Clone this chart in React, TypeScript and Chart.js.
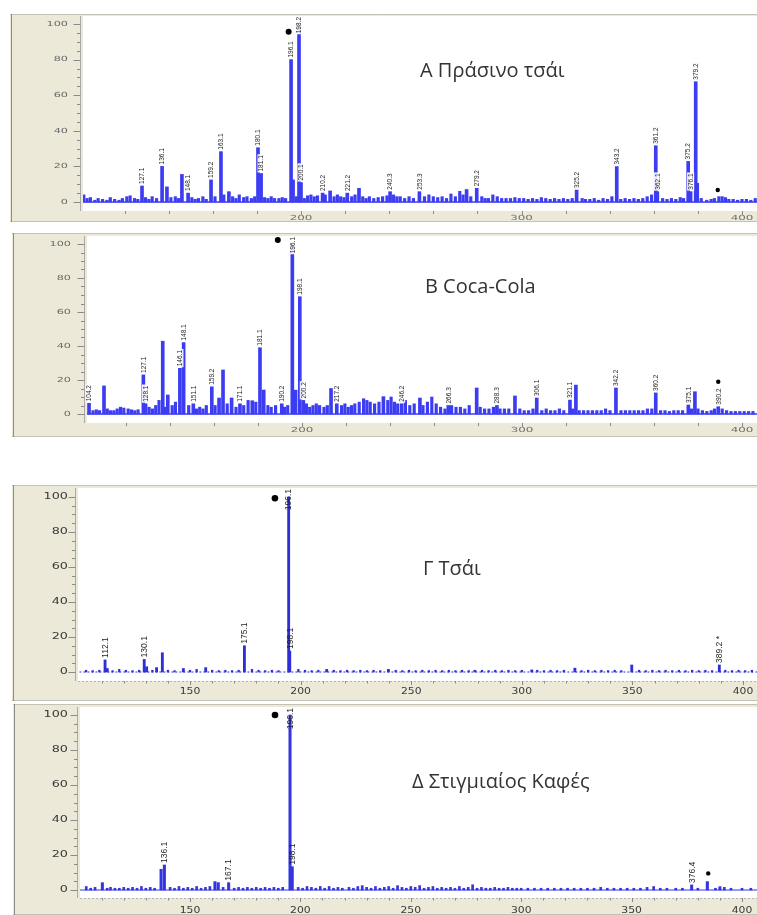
import React, { useEffect, useRef } from "react";
import { Chart, registerables } from "chart.js";

Chart.register(...registerables);

// ================= DATA =================
// baseline (intensity 0) drawn across the m/z range
const BASELINE_MZ = [100, 410];

// axis tick values
const Y_TICK_LABELS = [0, 20, 40, 60, 80, 100];
const Y_MINOR_TICKS = [5, 10, 15, 25, 30, 35, 45, 50, 55, 65, 70, 75, 85, 90, 95];
const X_TICK_LABELS_AB = [200, 300, 400];
const X_MINOR_TICKS_AB = [120, 140, 160, 180, 220, 240, 260, 280, 320, 340, 360, 380];
const X_TICK_LABELS_CD = [150, 200, 250, 300, 350, 400];
const X_MINOR_TICKS_CD = [
  110, 120, 130, 140, 160, 170, 180, 190, 210, 220, 230, 240, 260, 270, 280, 290,
  310, 320, 330, 340, 360, 370, 380, 390,
];

// titles
const TITLE_A = "Α Πράσινο τσάι";
const TITLE_B = "Β Coca-Cola";
const TITLE_C = "Γ Τσάι";
const TITLE_D = "Δ Στιγμιαίος Καφές";

// ---- Panel A: green tea  [m/z, relative intensity, label]
const A_PEAKS: [number, number, string][] = [
  [127.9, 9, "127.1"], [137.0, 20, "136.1"], [139.2, 8.5, ""], [146.0, 15.5, ""],
  [148.8, 5, "148.1"], [159.2, 12.4, "159.2"], [163.7, 28.3, "163.1"], [167.3, 5.8, ""],
  [180.5, 30.5, "180.1"], [181.9, 16, "181.1"], [195.5, 80, "196.1"], [196.4, 12.4, ""],
  [199.1, 100, "198.2"], [200.0, 10.9, "200.1"], [209.8, 5, "210.2"], [213.2, 6.2, ""],
  [221.0, 5, "221.2"], [226.3, 7.7, ""], [240.4, 5.8, "240.3"], [253.7, 5.8, "253.3"],
  [275.1, 7, ""], [279.7, 7.7, "279.2"], [325.0, 6.7, "325.2"], [343.2, 19.9, "343.2"],
  [360.9, 31.6, "361.2"], [361.6, 5.8, "362.1"], [375.6, 22.8, "375.2"], [376.7, 5.8, "376.1"],
  [379.0, 67.6, "379.2"], [379.7, 10.5, ""],
];
const A_NOISE: [number, number][] = [
  [101.5, 4], [103, 2], [104.5, 2.5], [106.5, 1], [108, 2], [110, 1.5], [112, 1], [113.5, 2.5],
  [115.5, 1.5], [117.5, 1], [119, 2], [121, 3], [122.5, 3.5], [124.5, 2], [126, 1.5], [129.5, 2.5],
  [131, 1.5], [132.5, 3], [134.5, 2], [141, 2.5], [143, 3], [144.5, 2], [150.5, 2.5], [152, 1.5],
  [153.5, 2], [155.5, 3], [157, 1.5], [161, 3], [165, 4], [169, 3], [170.5, 2], [172, 4],
  [174, 2.5], [175.5, 3], [177.5, 2], [179, 3], [183.5, 2.5], [185, 2], [186.5, 3], [188, 2],
  [190, 2], [191.5, 2.5], [193, 2], [198, 3], [201.5, 2], [203, 3.5], [204.5, 4], [206, 3],
  [207.5, 3.5], [211, 4], [215, 3], [216.5, 4], [218, 3], [219.5, 2.5], [223, 3], [224.5, 4],
  [228, 3], [229.5, 2], [231, 3], [233, 2], [235, 2.5], [237, 3], [239, 3.5], [242, 4],
  [243.5, 3], [245, 3], [247, 2], [249, 3], [251, 2], [256, 3], [258, 4], [260, 3],
  [262, 2.5], [264, 3], [266, 2], [268, 4.5], [270, 3], [272, 6], [273.5, 4], [277, 3],
  [282, 3], [283.5, 2], [285, 2], [287, 4], [289, 3], [291, 2], [293, 2], [295, 2],
  [297, 2.5], [299, 2], [301, 2], [303, 1.5], [305, 2], [307, 1.5], [309, 2.5], [311, 2],
  [313, 1.5], [315, 2], [317, 1.5], [319, 2], [321, 1.5], [323, 2], [327.5, 2], [329, 1.5],
  [331, 1.5], [333, 2], [335, 1], [337, 2], [339, 1.5], [341, 3], [345, 1.5], [347, 2],
  [349, 1.5], [351, 2], [353, 1.5], [355, 2], [357, 3], [359, 4], [364, 2], [366, 1.5],
  [368, 2], [370, 1.5], [372, 2.5], [373.5, 2], [381.5, 2], [384, 1], [386, 1.5], [387.5, 2],
  [389.5, 3], [391, 3], [392.5, 2.5], [394, 1.5], [396, 1.5], [398, 1], [400, 1.5], [402, 1.5],
  [404, 1], [406, 2],
];

// ---- Panel B: Coca-Cola
const B_PEAKS: [number, number, string][] = [
  [103.2, 6.3, "104.2"], [110.0, 16.5, ""], [127.9, 23, "127.1"], [128.9, 6, "128.1"],
  [136.7, 42.8, ""], [139.0, 11.2, ""], [144.5, 26.9, "146.1"], [146.2, 42, "148.1"],
  [150.6, 6, "151.1"], [159.0, 16, "159.2"], [162.3, 9.4, ""], [164.1, 25.9, ""],
  [168.0, 9.4, ""], [171.8, 6, "171.1"], [177.4, 7.8, ""], [180.9, 39, "181.1"],
  [182.6, 14.1, ""], [190.8, 6, "190.2"], [195.6, 100, "196.1"], [197.1, 14, ""],
  [199.0, 69, "198.1"], [200.6, 8, "200.2"], [213.2, 15, ""], [215.8, 6, "217.2"],
  [237.0, 10.2, ""], [245.3, 6, "246.2"], [253.6, 9.4, ""], [266.5, 5, "266.3"],
  [279.4, 15.3, ""], [288.6, 5, "288.3"], [296.8, 10.6, ""], [306.7, 9.4, "306.1"],
  [321.8, 8.2, "321.1"], [324.5, 17, ""], [342.7, 15.3, "342.2"], [360.8, 12.4, "360.2"],
  [375.6, 5.3, "375.1"], [378.6, 13.1, ""], [389.2, 4.3, "390.2"],
];
const B_NOISE: [number, number][] = [
  [101, 4], [105, 2], [106.5, 2.5], [108, 2], [111.5, 3], [113, 2], [114.5, 2], [116, 3],
  [117.5, 4], [119, 3.5], [121, 3], [122.5, 2.5], [124, 2], [125.5, 2.5], [130.5, 4], [132, 3],
  [133.5, 5], [135, 8], [138, 4], [141, 5], [142.5, 7], [148.5, 5], [152, 3], [153.5, 4],
  [155, 3], [156.5, 5], [160.5, 5], [166, 6], [170, 4], [173.5, 5], [175.5, 8], [179, 7],
  [184.5, 5], [186, 4], [188, 5], [192, 4], [193.5, 5], [202, 6], [203.5, 4], [205, 5],
  [206.5, 6], [208, 5], [210, 4], [211.5, 5], [218, 5], [219.5, 6], [221, 4], [222.5, 5],
  [224, 6], [226, 7], [228, 9], [229.5, 8], [231, 7], [233, 6], [235, 7], [239, 8],
  [240.5, 10], [242, 7], [243.5, 6], [247, 8], [249, 5], [251, 6], [255, 5], [257, 7],
  [259, 10], [261, 6], [263, 4], [265, 3], [268, 5], [270, 4], [272, 4], [274, 3],
  [276, 5], [281, 4], [283, 3], [285, 3], [287, 4], [290, 3], [292, 3], [294, 3],
  [299, 3], [301, 2], [303, 2], [305, 3], [309, 2], [311, 3], [313, 2], [315, 2],
  [317, 3], [319, 2], [323, 3], [326, 2], [328, 2], [330, 2], [332, 2], [334, 2],
  [336, 2], [338, 3], [340, 2], [345, 2], [347, 2], [349, 2], [351, 2], [353, 2],
  [355, 2], [357, 3], [359, 3], [363, 2], [365, 2], [367, 1.5], [369, 2], [371, 2],
  [373, 2], [377, 3], [380, 3], [382, 2], [384, 1.5], [386, 2], [387.5, 3], [391, 3],
  [393, 2], [395, 1.5], [397, 1.5], [399, 1.5], [401, 1.5], [403, 1.5], [405, 1.5],
];

// ---- Panel Γ: tea
const C_PEAKS: [number, number, string][] = [
  [111.6, 6.9, "112.1"], [112.6, 2, ""], [129.3, 7.2, "130.1"], [130.4, 3, ""],
  [134.9, 2.5, ""], [137.5, 11, ""], [147.0, 2, ""], [157.1, 2.5, ""],
  [174.6, 15, "175.1"], [194.6, 100, "196.1"], [195.1, 12, "198.1"], [211.8, 1.5, ""],
  [239.7, 1.5, ""], [278.8, 1, ""], [304.5, 1.2, ""], [324.0, 2.2, ""],
  [349.7, 4, ""], [389.3, 4, "389.2 *"],
];
const C_NOISE: [number, number][] = [
  [103, 1], [106, 0.8], [109, 1], [115, 0.8], [118, 1.5], [121, 1], [124, 0.8], [127, 1],
  [133, 1], [140, 1], [143, 0.8], [150, 1], [153, 1.5], [160, 1], [163, 0.8], [166, 1],
  [169, 0.8], [172, 1], [178, 1.5], [181, 1], [184, 0.8], [187, 1], [190, 0.8], [199, 1.5],
  [202, 1], [205, 0.8], [208, 1], [215, 1], [218, 0.8], [221, 1], [224, 0.8], [227, 1],
  [230, 0.8], [233, 1], [236, 0.8], [243, 1], [246, 0.8], [249, 1], [252, 0.8], [255, 1],
  [258, 0.8], [261, 1], [264, 0.8], [267, 1], [270, 0.8], [273, 1], [276, 0.8], [282, 1],
  [285, 0.8], [288, 1], [291, 0.8], [294, 1], [297, 0.8], [300, 1], [307, 1], [310, 0.8],
  [313, 1], [316, 0.8], [319, 1], [327, 0.8], [330, 1], [333, 0.8], [336, 1], [339, 0.8],
  [342, 1], [345, 0.8], [353, 1], [356, 0.8], [359, 1], [362, 0.8], [365, 1], [368, 0.8],
  [371, 1], [374, 0.8], [377, 1], [380, 0.8], [383, 1], [386, 0.8], [392, 1], [395, 0.8],
  [398, 1], [401, 0.8], [404, 1],
];

// ---- Panel Δ: instant coffee
const D_PEAKS: [number, number, string][] = [
  [110.3, 4.2, ""], [136.9, 11.8, ""], [138.4, 14.3, "136.1"], [161.3, 4.8, ""],
  [162.8, 4.2, ""], [167.5, 4.2, "167.1"], [195.3, 100, "196.1"], [196.3, 13.3, "198.1"],
  [377.2, 2.9, "376.4"], [384.3, 4.8, ""], [390.0, 1.9, ""],
];
const D_NOISE: [number, number][] = [
  [103, 2], [105, 1], [107, 1.5], [112.5, 1], [114, 1.5], [116, 1], [118, 1], [120, 1.5],
  [122, 1], [124, 1.5], [126, 1], [128, 2], [130, 1], [132, 1.5], [134, 1], [141, 1.5],
  [143, 1], [145, 2], [147, 1], [149, 1.5], [151, 1], [153, 2], [155, 1], [157, 1.5],
  [159, 2], [165, 1.5], [170, 1], [172, 1.5], [174, 1], [176, 1.5], [178, 1], [180, 1.5],
  [182, 1], [184, 1.5], [186, 1], [188, 1.5], [190, 1], [192, 1.5], [199, 1.5], [201, 1],
  [203, 2], [205, 1.5], [207, 1], [209, 2], [211, 1], [213, 2], [215, 1], [217, 1.5],
  [219, 1], [222, 1.5], [224, 1], [226, 2], [228, 2.5], [230, 1.5], [232, 1], [234, 2],
  [236, 1], [238, 1.5], [240, 2], [242, 1], [244, 2.5], [246, 1.5], [248, 1], [250, 2],
  [252, 1.5], [254, 2.5], [256, 1], [258, 1.5], [260, 2], [262, 1], [264, 1.5], [266, 1],
  [268, 1.5], [270, 1], [272, 2], [274, 1], [276, 1.5], [278, 3], [280, 1], [282, 1.5],
  [284, 1], [286, 1], [288, 1.5], [290, 1], [292, 1], [294, 1.5], [296, 1], [298, 1],
  [300, 1], [303, 1], [306, 1], [309, 1], [312, 1], [315, 1], [318, 1], [321, 1],
  [324, 1], [327, 1], [330, 1], [333, 1], [336, 1.5], [339, 1], [342, 1], [345, 1],
  [348, 1], [351, 1], [354, 1], [357, 1.5], [360, 2], [363, 1], [366, 1], [370, 1],
  [373, 1], [380, 1], [388, 1], [392, 1.5], [395, 1], [400, 1], [404, 1],
];

// markers: [m/z, intensity]
const A_DOT: [number, number] = [194.4, 95.7];
const A_STAR: [number, number] = [389.0, 6.7];
const B_DOT: [number, number] = [189.0, 102.4];
const B_STAR: [number, number] = [389.2, 19];
const C_DOT: [number, number] = [188.4, 99.3];
const D_DOT: [number, number] = [188.5, 100];
const D_STAR: [number, number] = [384.7, 9.5];

// ================= LAYOUT / STYLE =================
interface PanelCfg {
  frame: { left: number; top: number; right: number; bottom: number };
  plot: { left: number; top: number; bottom: number };
  xCal: [number, number, number, number];
  yCal: [number, number];
  peaks: [number, number, string][];
  noise: [number, number][];
  xLabels: number[];
  xMinor: number[];
  yLabelRight: number;
  xLabelY: number;
  yFont: string;
  ySx: number;
  yColor: string;
  xFont: string;
  xSx: number;
  xColor: string;
  peakFont: string;
  labelBg: boolean;
  barColor: string;
  barW: number;
  noiseW: number;
  baseDash: number[];
  baseWidth: number;
  dot: [number, number];
  star: [number, number] | null;
  dotR: number;
  xMajorLen: number;
  xMinorLen: number;
  xAxisLine: boolean;
}

const BEIGE = "#ece9d8";

const PANEL_A: PanelCfg = {
  frame: { left: 10, top: 14, right: 757, bottom: 222 },
  plot: { left: 83, top: 16, bottom: 211 },
  xCal: [200, 301, 400, 742],
  yCal: [202, 24],
  peaks: A_PEAKS, noise: A_NOISE,
  xLabels: X_TICK_LABELS_AB, xMinor: X_MINOR_TICKS_AB,
  yLabelRight: 68, xLabelY: 218,
  yFont: '7px "DejaVu Sans"', ySx: 1.6, yColor: "#6a6a6a",
  xFont: '7px "DejaVu Sans"', xSx: 1.7, xColor: "#707070",
  peakFont: '6.5px "Liberation Sans"', labelBg: true,
  barColor: "#3c3cf2", barW: 3, noiseW: 2.5,
  baseDash: [], baseWidth: 1.5,
  dot: A_DOT, star: A_STAR, dotR: 3,
  xMajorLen: 4, xMinorLen: 3, xAxisLine: false,
};
const PANEL_B: PanelCfg = {
  frame: { left: 12, top: 233, right: 757, bottom: 437 },
  plot: { left: 87, top: 236, bottom: 423 },
  xCal: [200, 302, 400, 742],
  yCal: [414, 244],
  peaks: B_PEAKS, noise: B_NOISE,
  xLabels: X_TICK_LABELS_AB, xMinor: X_MINOR_TICKS_AB,
  yLabelRight: 71, xLabelY: 430,
  yFont: '7px "DejaVu Sans"', ySx: 1.6, yColor: "#6a6a6a",
  xFont: '7px "DejaVu Sans"', xSx: 1.7, xColor: "#707070",
  peakFont: '6.5px "Liberation Sans"', labelBg: true,
  barColor: "#3c3cf2", barW: 3, noiseW: 2.5,
  baseDash: [], baseWidth: 1.5,
  dot: B_DOT, star: B_STAR, dotR: 3,
  xMajorLen: 4, xMinorLen: 3, xAxisLine: false,
};
const PANEL_C: PanelCfg = {
  frame: { left: 12, top: 485, right: 757, bottom: 701 },
  plot: { left: 78, top: 488, bottom: 681 },
  xCal: [150, 190, 400, 743],
  yCal: [672, 497],
  peaks: C_PEAKS, noise: C_NOISE,
  xLabels: X_TICK_LABELS_CD, xMinor: X_MINOR_TICKS_CD,
  yLabelRight: 68, xLabelY: 692,
  yFont: '8px "DejaVu Sans"', ySx: 1.6, yColor: "#3a3a3a",
  xFont: '9px "DejaVu Sans"', xSx: 1.2, xColor: "#3a3a3a",
  peakFont: '8.5px "Liberation Sans"', labelBg: false,
  barColor: "#2f2fd8", barW: 2.2, noiseW: 1.6,
  baseDash: [2, 2], baseWidth: 1,
  dot: C_DOT, star: null, dotR: 3.3,
  xMajorLen: 4, xMinorLen: 2.5, xAxisLine: true,
};
const PANEL_D: PanelCfg = {
  frame: { left: 13, top: 704, right: 757, bottom: 915 },
  plot: { left: 80, top: 707, bottom: 898 },
  xCal: [150, 190, 400, 742],
  yCal: [890, 715],
  peaks: D_PEAKS, noise: D_NOISE,
  xLabels: X_TICK_LABELS_CD, xMinor: X_MINOR_TICKS_CD,
  yLabelRight: 68, xLabelY: 911,
  yFont: '8px "DejaVu Sans"', ySx: 1.6, yColor: "#3a3a3a",
  xFont: '9px "DejaVu Sans"', xSx: 1.2, xColor: "#3a3a3a",
  peakFont: '8.5px "Liberation Sans"', labelBg: false,
  barColor: "#3434e0", barW: 2.4, noiseW: 2,
  baseDash: [], baseWidth: 1,
  dot: D_DOT, star: D_STAR, dotR: 3.3,
  xMajorLen: 4, xMinorLen: 2.5, xAxisLine: true,
};

const TITLES: { text: string; left: number; baseline: number }[] = [
  { text: TITLE_A, left: 420, baseline: 78 },
  { text: TITLE_B, left: 425, baseline: 294 },
  { text: TITLE_C, left: 423, baseline: 576 },
  { text: TITLE_D, left: 412, baseline: 789 },
];

function stretchedText(
  ctx: CanvasRenderingContext2D, text: string, x: number, y: number, sx: number,
  align: CanvasTextAlign
) {
  ctx.save();
  ctx.translate(x, y);
  ctx.scale(sx, 1);
  ctx.textAlign = align;
  ctx.textBaseline = "middle";
  ctx.fillText(text, 0, 0);
  ctx.restore();
}

function SpectrumPanel({ cfg }: { cfg: PanelCfg }) {
  const ref = useRef<HTMLCanvasElement>(null);
  const W = cfg.frame.right - cfg.frame.left;
  const H = cfg.frame.bottom - cfg.frame.top;

  useEffect(() => {
    const canvas = ref.current;
    if (!canvas) return;
    const yAxisW = cfg.plot.left - cfg.frame.left;
    const xAxisH = cfg.frame.bottom - cfg.plot.bottom;
    const padTop = cfg.plot.top - cfg.frame.top;
    const ppuY = (cfg.yCal[0] - cfg.yCal[1]) / 100;
    const yMin = -(cfg.plot.bottom - cfg.yCal[0]) / ppuY;
    const yMax = 100 + (cfg.yCal[1] - cfg.plot.top) / ppuY;
    const [m1, p1, m2, p2] = cfg.xCal;
    const ppuX = (p2 - p1) / (m2 - m1);
    const xMin = m1 - (p1 - cfg.plot.left) / ppuX;
    const xMax = m2 + (cfg.frame.right - p2) / ppuX;
    const fx = cfg.frame.left;
    const fy = cfg.frame.top;

    const plugin = {
      id: "spectrumDecor",
      beforeDraw(chart: any) {
        const { ctx, chartArea: a } = chart;
        ctx.save();
        ctx.fillStyle = BEIGE;
        ctx.fillRect(0, 0, chart.width, chart.height);
        ctx.fillStyle = "#ffffff";
        ctx.fillRect(a.left, a.top, a.right - a.left, a.bottom - a.top);
        ctx.strokeStyle = "#c4c2b6";
        ctx.lineWidth = 1;
        ctx.beginPath();
        ctx.moveTo(0, 0.5); ctx.lineTo(chart.width, 0.5);
        ctx.moveTo(0, chart.height - 0.5); ctx.lineTo(chart.width, chart.height - 0.5);
        ctx.stroke();
        ctx.strokeStyle = "#8e8c84";
        ctx.beginPath();
        ctx.moveTo(1.5, 0); ctx.lineTo(1.5, chart.height);
        ctx.stroke();
        ctx.restore();
      },
      afterDraw(chart: any) {
        const { ctx, chartArea: a } = chart;
        const xs = chart.scales.x;
        const ys = chart.scales.y;
        ctx.save();
        // y axis line and ticks
        const axX = a.left - 2.5;
        ctx.strokeStyle = "#a9a9a9";
        ctx.lineWidth = 1;
        ctx.beginPath();
        ctx.moveTo(axX, a.top); ctx.lineTo(axX, a.bottom);
        ctx.stroke();
        ctx.strokeStyle = "#8a8a8a";
        ctx.beginPath();
        Y_TICK_LABELS.forEach((v) => {
          const py = Math.round(ys.getPixelForValue(v)) + 0.5;
          ctx.moveTo(axX - 7, py); ctx.lineTo(axX, py);
        });
        Y_MINOR_TICKS.forEach((v) => {
          const py = Math.round(ys.getPixelForValue(v)) + 0.5;
          ctx.moveTo(axX - 3.5, py); ctx.lineTo(axX, py);
        });
        ctx.stroke();
        // y labels
        ctx.fillStyle = cfg.yColor;
        ctx.font = cfg.yFont;
        Y_TICK_LABELS.forEach((v) => {
          stretchedText(ctx, String(v), cfg.yLabelRight - fx, ys.getPixelForValue(v), cfg.ySx, "right");
        });
        // x axis line and ticks
        if (cfg.xAxisLine) {
          ctx.strokeStyle = "#b4b4b4";
          ctx.setLineDash([2, 2]);
          ctx.beginPath();
          ctx.moveTo(a.left, a.bottom + 0.5); ctx.lineTo(a.right, a.bottom + 0.5);
          ctx.stroke();
          ctx.setLineDash([]);
        }
        ctx.strokeStyle = "#8a8a8a";
        ctx.beginPath();
        cfg.xLabels.forEach((v) => {
          const px = Math.round(xs.getPixelForValue(v)) + 0.5;
          ctx.moveTo(px, a.bottom); ctx.lineTo(px, a.bottom + cfg.xMajorLen);
        });
        cfg.xMinor.forEach((v) => {
          const px = Math.round(xs.getPixelForValue(v)) + 0.5;
          ctx.moveTo(px, a.bottom); ctx.lineTo(px, a.bottom + cfg.xMinorLen);
        });
        ctx.stroke();
        ctx.fillStyle = cfg.xColor;
        ctx.font = cfg.xFont;
        cfg.xLabels.forEach((v) => {
          stretchedText(ctx, String(v), xs.getPixelForValue(v), cfg.xLabelY - fy, cfg.xSx, "center");
        });
        // peak labels (rotated)
        ctx.font = cfg.peakFont;
        const fontPx = parseFloat(cfg.peakFont);
        cfg.peaks.forEach(([m, v, label]) => {
          if (!label) return;
          const px = xs.getPixelForValue(m);
          const py = ys.getPixelForValue(v);
          const w = ctx.measureText(label).width;
          let start = py - 2;
          if (start - w < a.top + 1) start = a.top + 1 + w;
          ctx.save();
          ctx.translate(px, start);
          ctx.rotate(-Math.PI / 2);
          if (cfg.labelBg) {
            ctx.fillStyle = "rgba(255,255,255,0.9)";
            ctx.fillRect(-1, -fontPx * 0.55, w + 2, fontPx * 1.1);
          }
          ctx.fillStyle = "#1e1e1e";
          ctx.textAlign = "left";
          ctx.textBaseline = "middle";
          ctx.fillText(label, 0, 0.5);
          ctx.restore();
        });
        // markers
        ctx.fillStyle = "#000000";
        ctx.beginPath();
        ctx.arc(xs.getPixelForValue(cfg.dot[0]), ys.getPixelForValue(cfg.dot[1]), cfg.dotR, 0, Math.PI * 2);
        ctx.fill();
        if (cfg.star) {
          ctx.beginPath();
          ctx.arc(xs.getPixelForValue(cfg.star[0]), ys.getPixelForValue(cfg.star[1]), 2.2, 0, Math.PI * 2);
          ctx.fill();
        }
        ctx.restore();
      },
    };

    const chart = new Chart(canvas, {
      type: "bar",
      data: {
        datasets: [
          {
            type: "line",
            data: BASELINE_MZ.map((m) => ({ x: m, y: 0 })),
            borderColor: cfg.barColor,
            borderWidth: cfg.baseWidth,
            borderDash: cfg.baseDash,
            pointRadius: 0,
            order: 3,
          } as any,
          {
            type: "bar",
            data: cfg.noise.map(([m, v]) => ({ x: m, y: v })),
            backgroundColor: cfg.barColor,
            barThickness: cfg.noiseW,
            grouped: false,
            borderWidth: 0,
            order: 2,
          } as any,
          {
            type: "bar",
            data: cfg.peaks.map(([m, v]) => ({ x: m, y: v })),
            backgroundColor: cfg.barColor,
            barThickness: cfg.barW,
            grouped: false,
            borderWidth: 0,
            order: 1,
          } as any,
        ],
      },
      options: {
        animation: false,
        responsive: false,
        maintainAspectRatio: false,
        devicePixelRatio: 1,
        events: [],
        layout: { autoPadding: false, padding: { top: padTop, left: 0, right: 0, bottom: 0 } },
        plugins: { legend: { display: false }, tooltip: { enabled: false }, title: { display: false } },
        scales: {
          x: {
            type: "linear",
            min: xMin,
            max: xMax,
            offset: false,
            grid: { display: false, offset: false },
            border: { display: false },
            ticks: { display: false },
            afterFit: (s: any) => { s.height = xAxisH; },
          },
          y: {
            type: "linear",
            min: yMin,
            max: yMax,
            grid: { display: false },
            border: { display: false },
            ticks: { display: false },
            afterFit: (s: any) => { s.width = yAxisW; },
          },
        },
      } as any,
      plugins: [plugin as any],
    });
    return () => chart.destroy();
  }, [cfg]);

  return (
    <canvas
      ref={ref}
      width={W}
      height={H}
      style={{ position: "absolute", left: cfg.frame.left, top: cfg.frame.top, width: W, height: H }}
    />
  );
}

export default function App() {
  return (
    <div
      style={{
        position: "absolute", left: 0, top: 0, width: 757, height: 915,
        overflow: "hidden", background: "#ffffff",
      }}
    >
      <SpectrumPanel cfg={PANEL_A} />
      <SpectrumPanel cfg={PANEL_B} />
      <SpectrumPanel cfg={PANEL_C} />
      <SpectrumPanel cfg={PANEL_D} />
      {TITLES.map((t) => (
        <div
          key={t.text}
          style={{
            position: "absolute",
            left: t.left,
            top: t.baseline - 17.8,
            fontFamily: '"Open Sans", sans-serif',
            fontSize: 20,
            lineHeight: "20px",
            color: "#333333",
            whiteSpace: "nowrap",
          }}
        >
          {t.text}
        </div>
      ))}
    </div>
  );
}
